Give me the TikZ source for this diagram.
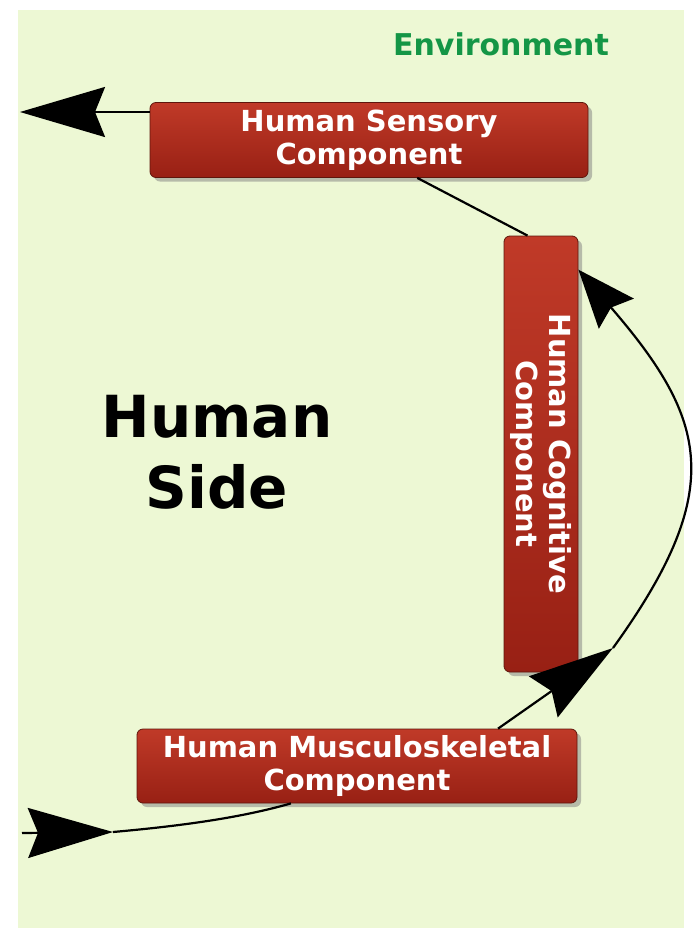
\documentclass[tikz,border=0pt]{standalone}
\usepackage{fontspec}
\setmainfont{DejaVu Sans}
\usetikzlibrary{arrows.meta,shadows,calc}
\definecolor{envgreen}{RGB}{20,150,70}
\definecolor{panelgreen}{RGB}{237,248,212}
\definecolor{boxtop}{RGB}{192,58,40}
\definecolor{boxbottom}{RGB}{152,32,20}
\definecolor{boxline}{RGB}{95,22,12}

\begin{document}
\begin{tikzpicture}[x=1pt,y=-1pt,comp/.style={rounded corners=6pt,draw=boxline,line width=.8pt,top color=boxtop,bottom color=boxbottom,text=white,font=\fontsize{29}{33}\selectfont\bfseries,align=center,inner sep=0pt,drop shadow={shadow xshift=4pt,shadow yshift=-4pt,opacity=.5}},link/.style={line width=2.2pt},bighead/.style={-{Stealth[length=85pt,width=50pt,inset=10pt]},line width=2.2pt}]

\path[use as bounding box,fill=white] (0,0) rectangle (696,935);
\fill[panelgreen] (18,10) rectangle (684,928);

% labels and the three components
\node[font=\fontsize{30}{34}\selectfont\bfseries,text=envgreen,anchor=base] (env) at (501,55) {Environment};
\node[font=\fontsize{58}{71}\selectfont\bfseries,align=center,inner sep=0pt] (side) at (217,452) {Human\\Side};
\node[comp,minimum width=438pt,minimum height=75pt] (sens) at (369,140) {Human Sensory\\Component};
\node[comp,rotate=-90,minimum width=436pt,minimum height=74pt] (cog) at (541,454) {Human Cognitive\\Component};
\node[comp,minimum width=440pt,minimum height=74pt] (musc) at (357,766) {Human Musculoskeletal\\Component};

\coordinate (sensOut) at (20,112);
\coordinate (cogIn) at (613,648);
\coordinate (entStart) at (22,833);
\coordinate (entTip) at (113,832);

% loop through the environment
\draw[bighead] (sens.west |- sensOut) -- (sensOut);
\draw[link] ($(sens.south west)!.61!(sens.south east)$) -- ($(cog.south west)!.32!(cog.north west)$);
\draw[bighead] ($(musc.north west)!.82!(musc.north east)$) -- (cogIn);
\draw[-{Stealth[length=58pt,width=46pt,inset=8pt]},link] (cogIn) .. controls (727,490) and (708,420) .. ($(cog.north west)!.078!(cog.north east)$);
\draw[bighead] (entStart) -- (entTip);
\draw[link] (entTip) .. controls (180,826) and (240,818) .. ($(musc.south west)!.35!(musc.south east)$);
\end{tikzpicture}
\end{document}
